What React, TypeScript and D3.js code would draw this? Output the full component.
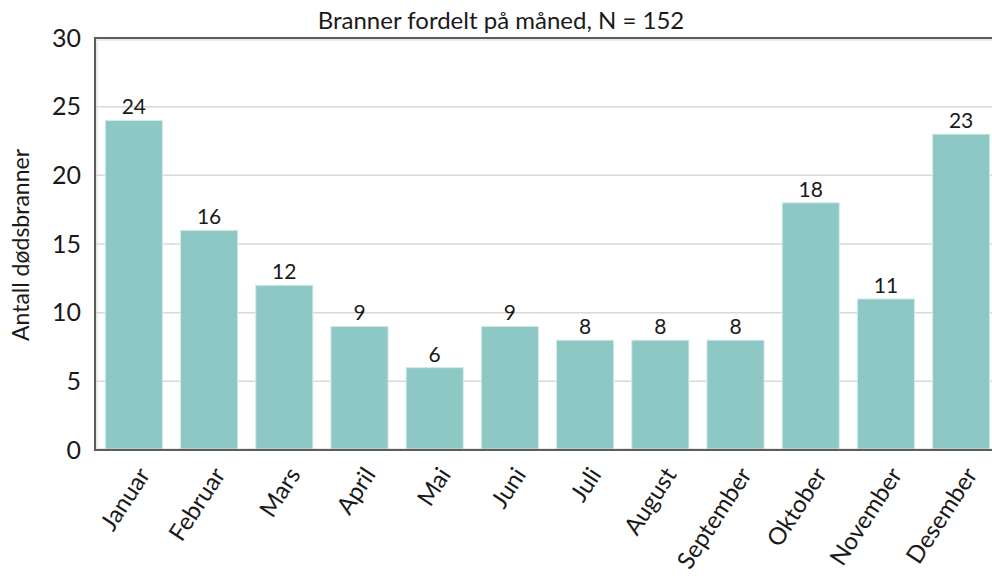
import React, { useRef, useEffect } from 'react';
import * as d3 from 'd3';

// monthly counts
const months = ['Januar', 'Februar', 'Mars', 'April', 'Mai', 'Juni', 'Juli', 'August', 'September', 'Oktober', 'November', 'Desember'];
const counts = [24, 16, 12, 9, 6, 9, 8, 8, 8, 18, 11, 23];
const yTicks = [0, 5, 10, 15, 20, 25, 30];

const title = 'Branner fordelt på måned, N = 152';
const yTitle = 'Antall dødsbranner';

function BarChart() {
    const svgRef = useRef<SVGSVGElement>(null);

    useEffect(() => {
        const layout = {
            width: 992,
            height: 580,
            left: 95,
            right: 1000,
            top: 38,
            bottom: 450
        };
        const font = 'Lato, "Open Sans", sans-serif';

        const svg = d3.select(svgRef.current)
            .attr('width', layout.width)
            .attr('height', layout.height)
            .style('background', '#ffffff')
            .style('display', 'block');
        svg.selectAll('*').remove();

        const xScale = d3.scaleBand<string>()
            .domain(months)
            .range([layout.left, layout.right])
            .paddingInner(0.24)
            .paddingOuter(0.137);

        const yScale = d3.scaleLinear()
            .domain([0, 30])
            .range([layout.bottom, layout.top]);

        // grid
        svg.append('g')
            .selectAll('line')
            .data(yTicks.filter(t => t > 0 && t < 30))
            .join('line')
            .attr('x1', layout.left)
            .attr('x2', layout.right)
            .attr('y1', d => yScale(d))
            .attr('y2', d => yScale(d))
            .attr('stroke', '#d9d9d9')
            .attr('stroke-width', 1.5);

        // bars
        svg.append('g')
            .selectAll('rect')
            .data(months)
            .join('rect')
            .attr('x', d => xScale(d)!)
            .attr('width', xScale.bandwidth())
            .attr('y', (d, i) => yScale(counts[i]))
            .attr('height', (d, i) => yScale(0) - yScale(counts[i]))
            .attr('fill', '#8ec8c5')
            .attr('stroke', '#d3ecea')
            .attr('stroke-width', 1);

        // value labels
        svg.append('g')
            .selectAll('text')
            .data(months)
            .join('text')
            .attr('x', d => xScale(d)! + xScale.bandwidth() / 2)
            .attr('y', (d, i) => yScale(counts[i]) - 6)
            .attr('text-anchor', 'middle')
            .style('font-family', font)
            .style('font-size', '21px')
            .attr('fill', '#1a1a1a')
            .text((d, i) => counts[i]);

        // frame
        svg.append('rect')
            .attr('x', layout.left + 2)
            .attr('y', layout.top + 2)
            .attr('width', layout.right - layout.left)
            .attr('height', layout.bottom - layout.top - 3)
            .attr('fill', 'none')
            .attr('stroke', '#d6d6d6')
            .attr('stroke-width', 1);
        svg.append('rect')
            .attr('x', layout.left)
            .attr('y', layout.top)
            .attr('width', layout.right - layout.left)
            .attr('height', layout.bottom - layout.top)
            .attr('fill', 'none')
            .attr('stroke', '#5c5c5c')
            .attr('stroke-width', 2);

        // y axis labels
        const yAxis = d3.axisLeft(yScale)
            .tickValues(yTicks)
            .tickSize(0)
            .tickPadding(14);
        const yg = svg.append('g')
            .attr('transform', `translate(${layout.left},0)`)
            .call(yAxis);
        yg.select('.domain').remove();
        yg.selectAll('text')
            .style('font-family', font)
            .style('font-size', '25px')
            .attr('fill', '#1a1a1a');

        // x axis labels
        svg.append('g')
            .selectAll('text')
            .data(months)
            .join('text')
            .attr('transform', d => `translate(${xScale(d)! + xScale.bandwidth() / 2 + 10},${layout.bottom + 20}) rotate(-57)`)
            .attr('text-anchor', 'end')
            .attr('dy', '0.35em')
            .style('font-family', font)
            .style('font-size', '24px')
            .attr('fill', '#1a1a1a')
            .text(d => d);

        // titles
        svg.append('text')
            .attr('x', 501)
            .attr('y', 29)
            .attr('text-anchor', 'middle')
            .style('font-family', font)
            .style('font-size', '24px')
            .attr('fill', '#1a1a1a')
            .text(title);

        svg.append('text')
            .attr('transform', `translate(29,${(layout.top + layout.bottom) / 2 + 1}) rotate(-90)`)
            .attr('text-anchor', 'middle')
            .style('font-family', font)
            .style('font-size', '23px')
            .attr('fill', '#1a1a1a')
            .text(yTitle);
    }, []);

    return <svg ref={svgRef}></svg>;
}

export default function App() {
    return (
        <div>
            <style>{'body{margin:0;overflow:hidden}'}</style>
            <BarChart />
        </div>
    );
}
